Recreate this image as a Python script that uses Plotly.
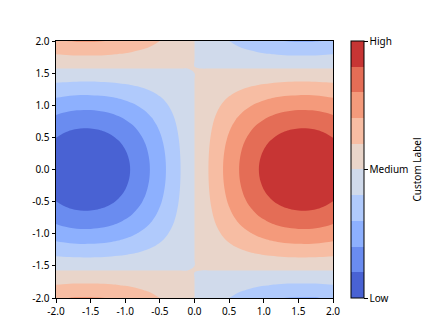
import plotly.graph_objects as go
import numpy as np

# grid coordinates
x_vals = [round(-2.0 + 0.1 * i, 1) for i in range(41)]
y_vals = [round(-2.0 + 0.1 * i, 1) for i in range(41)]

# horizontal profile (value along x) and vertical profile (value along y)
x_profile = [-0.909, -0.946, -0.974, -0.992, -1.000, -0.997, -0.985, -0.964, -0.932, -0.891,
             -0.841, -0.783, -0.717, -0.644, -0.565, -0.479, -0.389, -0.296, -0.199, -0.100,
             0.000,
             0.100, 0.199, 0.296, 0.389, 0.479, 0.565, 0.644, 0.717, 0.783, 0.841,
             0.891, 0.932, 0.964, 0.985, 0.997, 1.000, 0.992, 0.974, 0.946, 0.909]
y_profile = [-0.416, -0.323, -0.227, -0.129, -0.029, 0.071, 0.170, 0.267, 0.362, 0.454,
             0.540, 0.622, 0.697, 0.765, 0.825, 0.878, 0.921, 0.955, 0.980, 0.995,
             1.000,
             0.995, 0.980, 0.955, 0.921, 0.878, 0.825, 0.765, 0.697, 0.622, 0.540,
             0.454, 0.362, 0.267, 0.170, 0.071, -0.029, -0.129, -0.227, -0.323, -0.416]

z_grid = np.outer(np.array(y_profile), np.array(x_profile))

band_colors = ["rgb(73,98,211)", "rgb(106,140,240)", "rgb(141,176,254)", "rgb(176,202,252)",
               "rgb(208,218,235)", "rgb(233,213,202)", "rgb(247,189,163)", "rgb(244,154,123)",
               "rgb(228,109,86)", "rgb(199,53,52)"]
levels_start, levels_end, levels_size = -1.0, 1.0, 0.2
cbar_tickvals = [-1, 0, 1]
cbar_ticktext = ["Low", "Medium", "High"]
cbar_title = "Custom Label"

# colorscale for contour fills (robust step scale)
n = len(band_colors)
fill_scale = []
for k, c in enumerate(band_colors):
    lo = max(0.0, (k + 0.5) / (n + 1)) if k > 0 else 0.0
    hi = (k + 1.5) / (n + 1) if k < n - 1 else 1.0
    fill_scale.append([lo, c])
    fill_scale.append([hi, c])

# colorscale for the colorbar
bar_scale = []
for k, c in enumerate(band_colors):
    bar_scale.append([k / n, c])
    bar_scale.append([(k + 1) / n, c])

font = dict(family="Noto Sans, Open Sans, sans-serif", size=10, color="black")

fig = go.Figure()
fig.add_trace(go.Contour(
    x=x_vals, y=y_vals, z=z_grid,
    autocontour=False,
    contours=dict(start=levels_start, end=levels_end, size=levels_size,
                  coloring="fill", showlines=False),
    line=dict(width=0),
    colorscale=fill_scale,
    showscale=False,
    hoverinfo="skip",
))

fig.add_trace(go.Scatter(
    x=[None], y=[None], mode="markers",
    marker=dict(color=[0], colorscale=bar_scale, cmin=-1, cmax=1, showscale=True,
                colorbar=dict(
                    x=1 + 18 / 277, xanchor="left", xpad=0,
                    y=0.5, yanchor="middle", ypad=0, len=1, lenmode="fraction",
                    thickness=13, outlinewidth=1, outlinecolor="black",
                    tickvals=cbar_tickvals, ticktext=cbar_ticktext,
                    ticks="outside", ticklen=3.5, tickwidth=1, tickcolor="black",
                    tickfont=font,
                    title=dict(text=cbar_title, side="right", font=font),
                )),
    showlegend=False, hoverinfo="skip",
))

axis_common = dict(
    range=[-2, 2], tickmode="array", tickvals=[-2, -1.5, -1, -0.5, 0, 0.5, 1, 1.5, 2],
    ticktext=["-2.0", "-1.5", "-1.0", "-0.5", "0.0", "0.5", "1.0", "1.5", "2.0"],
    ticks="outside", ticklen=3.5, tickwidth=1, tickcolor="black",
    showline=True, linecolor="black", linewidth=1, mirror=True,
    showgrid=False, zeroline=False, tickfont=font,
)

fig.update_layout(
    width=448, height=336,
    margin=dict(l=56, r=115, t=41, b=38),
    paper_bgcolor="white", plot_bgcolor="white",
    xaxis=dict(**axis_common),
    yaxis=dict(**axis_common),
    font=font,
)

fig.write_html("out.html")
